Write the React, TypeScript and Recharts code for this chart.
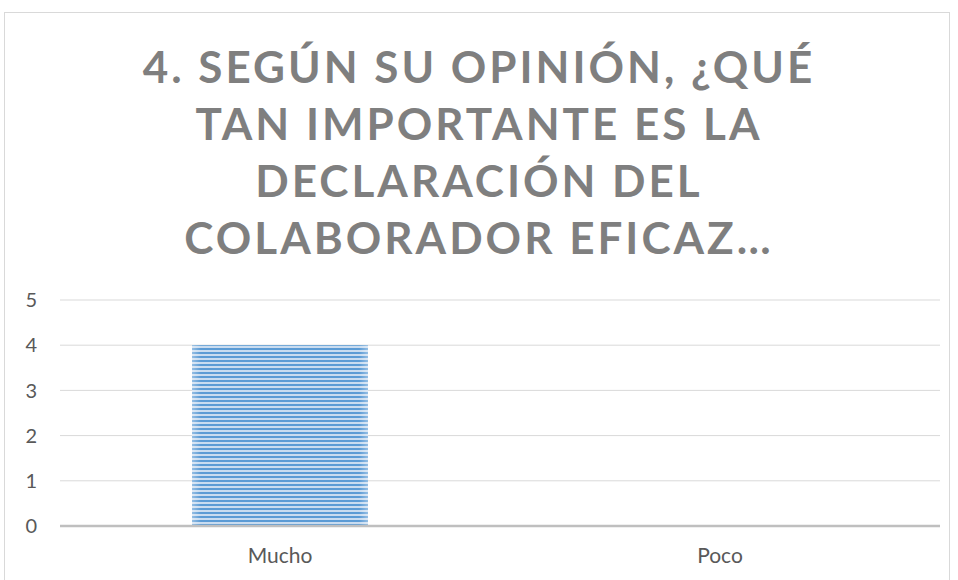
import { BarChart, Bar, XAxis, YAxis, CartesianGrid } from "recharts";

const categories = ["Mucho", "Poco"];
const values = [4, 0];
const yTicks = [0, 1, 2, 3, 4, 5];
const titleLines = [
  "4. SEGÚN SU OPINIÓN, ¿QUÉ",
  "TAN IMPORTANTE ES LA",
  "DECLARACIÓN DEL",
  "COLABORADOR EFICAZ…",
];

const data = categories.map((name, i) => ({ name, value: values[i] }));

function StripedBar(props: any) {
  const { x, y, width, height } = props;
  if (!height || height <= 0) return null;
  return (
    <g>
      <rect x={x} y={y} width={width} height={height} fill="url(#stripes)" />
      <rect x={x} y={y} width={width} height={height} fill="url(#edgeFade)" />
    </g>
  );
}

export default function App() {
  return (
    <div
      style={{
        position: "absolute",
        left: 0,
        top: 0,
        width: 958,
        height: 580,
        background: "#fff",
        overflow: "hidden",
        fontFamily: "Lato, 'Open Sans', sans-serif",
      }}
    >
      <div
        style={{
          position: "absolute",
          left: 4,
          top: 12,
          width: 944,
          height: 600,
          border: "1.5px solid #d9d9d9",
        }}
      />
      <div
        style={{
          position: "absolute",
          left: 0,
          top: 38,
          width: 958,
          textAlign: "center",
          color: "#7f7f7f",
          fontWeight: 700,
          fontSize: 44,
          letterSpacing: 3,
          lineHeight: "57px",
        }}
      >
        {titleLines.map((t) => (
          <div key={t}>{t}</div>
        ))}
      </div>
      <div style={{ position: "absolute", left: 0, top: 0 }}>
        <BarChart
          width={958}
          height={580}
          data={data}
          margin={{ top: 300, right: 18, bottom: 0, left: 0 }}
          barCategoryGap="30%"
          style={{ fontFamily: "Lato, sans-serif" }}
        >
          <defs>
            <pattern id="stripes" width="8" height="4" patternUnits="userSpaceOnUse">
              <rect x="0" y="0" width="8" height="4" fill="#c9dcf0" />
              <rect x="0" y="0" width="8" height="2" fill="#5b9bd5" />
            </pattern>
            <linearGradient id="edgeFade" x1="0" y1="0" x2="1" y2="0">
              <stop offset="0" stopColor="#ffffff" stopOpacity={0.35} />
              <stop offset="0.05" stopColor="#ffffff" stopOpacity={0} />
              <stop offset="0.95" stopColor="#ffffff" stopOpacity={0} />
              <stop offset="1" stopColor="#ffffff" stopOpacity={0.35} />
            </linearGradient>
          </defs>
          <CartesianGrid vertical={false} stroke="#d9d9d9" strokeWidth={1} />
          <XAxis
            dataKey="name"
            height={54}
            tickLine={false}
            tickSize={0}
            tickMargin={22}
            axisLine={{ stroke: "#bfbfbf", strokeWidth: 2.5 }}
            tick={{ fill: "#595959", fontSize: 21 }}
          />
          <YAxis
            width={60}
            domain={[0, 5]}
            ticks={yTicks}
            interval={0}
            tickLine={false}
            tickSize={0}
            tickMargin={23}
            axisLine={false}
            tick={{ fill: "#595959", fontSize: 20 }}
          />
          <Bar dataKey="value" shape={<StripedBar />} isAnimationActive={false} />
        </BarChart>
      </div>
    </div>
  );
}
